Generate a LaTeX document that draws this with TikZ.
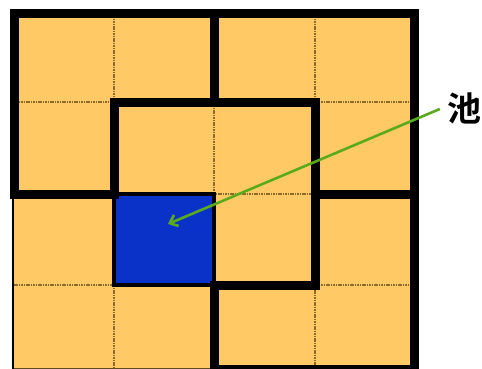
\documentclass[tikz,border=0pt]{standalone}
\usepackage{fontspec}
\newfontfamily\cjk{Noto Sans CJK SC}[UprightFont={* Bold}]
\usetikzlibrary{arrows.meta}
\definecolor{cellfill}{HTML}{FFCA66}
\definecolor{pondblue}{HTML}{0A32C8}
\definecolor{gridbrown}{HTML}{8A6A2A}
\definecolor{arrowgreen}{HTML}{5AAA1E}
\tikzset{
  gridline/.style={draw=gridbrown, line width=1.1pt, dash pattern=on 1.6pt off 0.8pt},
  wall/.style={draw=black, line width=9pt, line join=miter, line cap=square},
  pondbox/.style={fill=pondblue, draw=black, line width=4pt, minimum width=100pt, minimum height=91pt, inner sep=0pt},
  pointer/.style={draw=arrowgreen, line width=2.6pt, -{Straight Barb[length=7pt,width=12pt]}},
  labeltext/.style={font=\cjk\fontsize{34}{34}\selectfont, inner sep=0pt}
}
\begin{document}
\begin{tikzpicture}[x=1pt,y=-1pt]
\useasboundingbox (0,0) rectangle (482,369);
% background cells
\fill[cellfill] (14,14) rectangle (414,369);
% dotted grid
\foreach \x in {114,214,315} \draw[gridline] (\x,14) -- (\x,369);
\foreach \y in {102,194,285} \draw[gridline] (14,\y) -- (414,\y);
% thin outer edges
\draw[black, line width=1.8pt] (13,194) -- (13,369);
\draw[gridbrown!70!black, line width=1.2pt] (14,368.5) -- (214,368.5);
% pond
\node[pondbox] (pond) at (164,239.5) {};
% walls
\draw[wall] (14,194) -- (14,14) -- (414,14) -- (414,369) -- (214,369) -- (214,285) -- (315,285) -- (315,102) -- (114,102) -- (114,194) -- cycle;
\draw[wall] (214,14) -- (214,102);
\draw[wall] (315,194) -- (414,194);
% label and pointer
\node[labeltext] (label) at (464,108) {池};
\coordinate (tip) at (168,224);
\draw[pointer] ([xshift=-7pt,yshift=-1pt]label.west) -- (tip);
\end{tikzpicture}
\end{document}
